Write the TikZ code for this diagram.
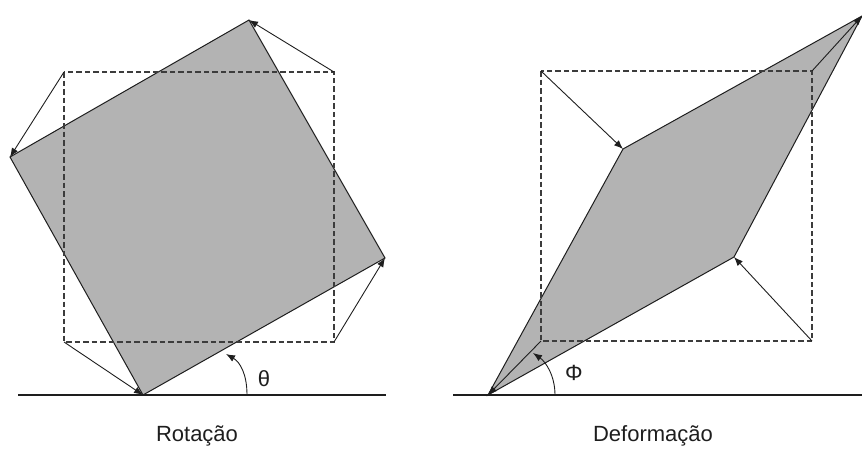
\documentclass[tikz,border=0pt]{standalone}
\usepackage{fontspec}
\setmainfont{Liberation Sans}
\usetikzlibrary{arrows.meta}
\definecolor{shade}{RGB}{179,179,179}
\definecolor{ink}{RGB}{30,30,30}
\definecolor{dashink}{RGB}{60,60,60}
\tikzset{
  body/.style={fill=shade,draw=ink,line width=1pt,line join=miter},
  frame/.style={draw=dashink,dashed,dash pattern=on 5.5pt off 3pt,line width=1.1pt},
  move/.style={draw=ink,line width=0.9pt,-{Latex[length=9pt,width=7pt]}},
  ground/.style={draw=ink,line width=1.1pt},
  lbl/.style={font=\fontsize{22}{26}\selectfont,text=ink,inner sep=0pt},
}
\begin{document}
\begin{tikzpicture}[x=1pt,y=-1pt]
\useasboundingbox (0,0) rectangle (862,448);
% ---- Rotation ----
\coordinate (sa) at (64,72);
\coordinate (sb) at (334,72);
\coordinate (sc) at (334,342);
\coordinate (sd) at (64,342);
\coordinate (ra) at (10,157);
\coordinate (rb) at (249,20);
\coordinate (rc) at (385,258);
\coordinate (rd) at (143,395);
\coordinate (g1) at (18,395);
\coordinate (g2) at (386,395);
\coordinate (t0) at (247,395);
\coordinate (t1) at (226,354);
\path[body] (ra) -- (rb) -- (rc) -- (rd) -- cycle;
\draw[frame] (sa) rectangle (sc);
\draw[move] (sa) -- (ra);
\draw[move] (sb) -- (rb);
\draw[move] (sc) -- (rc);
\draw[move] (sd) -- (rd);
\draw[ground] (g1) -- (g2);
\draw[move] (t0) .. controls (247,374) and (240,362) .. (t1);
\node[lbl] (theta) at (264,379) {θ};
\node[lbl] (rot) at (197,436) {Rotação};
% ---- Deformation ----
\coordinate (ta) at (541,71);
\coordinate (tb) at (812,71);
\coordinate (tc) at (812,341);
\coordinate (td) at (541,341);
\coordinate (pa) at (623,149);
\coordinate (pb) at (862,16);
\coordinate (pc) at (734,257);
\coordinate (pd) at (488,395);
\coordinate (h1) at (453,395);
\coordinate (h2) at (862,395);
\coordinate (f0) at (555,395);
\coordinate (f1) at (533,353);
\path[body] (pd) -- (pa) -- (pb) -- (pc) -- cycle;
\draw[frame] (ta) rectangle (tc);
\draw[move] (ta) -- (pa);
\draw[move] (tb) -- (pb);
\draw[move] (tc) -- (pc);
\draw[move] (td) -- (pd);
\draw[ground] (h1) -- (h2);
\draw[move] (f0) .. controls (555,376) and (546,362) .. (f1);
\node[lbl] (phi) at (574,373) {Φ};
\node[lbl] (def) at (653,436) {Deformação};
\end{tikzpicture}
\end{document}
